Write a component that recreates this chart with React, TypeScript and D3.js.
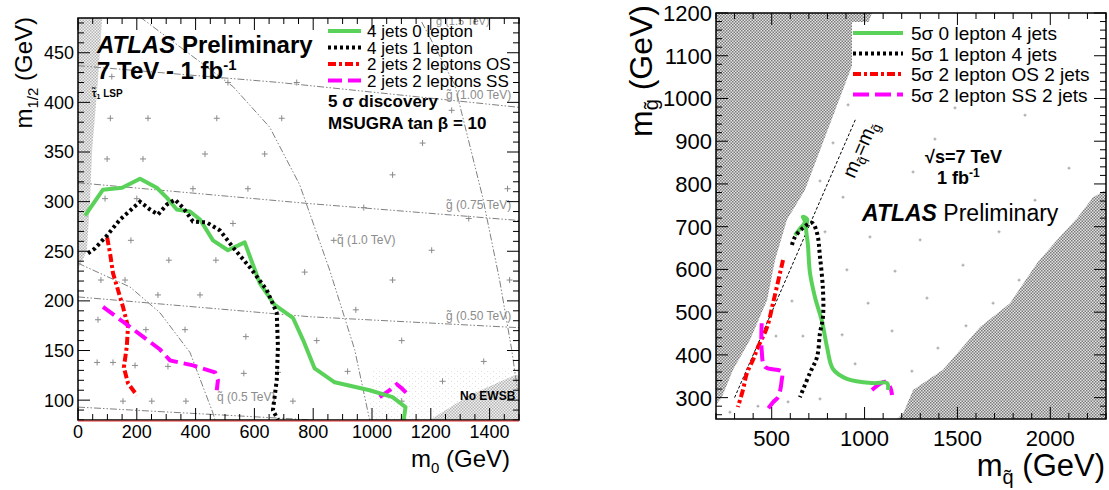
import React from 'react';
import * as d3 from 'd3';

const FONT = "'Liberation Sans', Arial, Helvetica, sans-serif";

// ---------- LEFT PANEL DATA (m0, m1/2 in GeV) ----------
const L_GREEN: [number, number][] = [[24,286],[85,312],[150,314],[211,323],[268,314],[302,304],[336,292],[381,290],[415,282],[459,261],[510,251],[567,259],[618,218],[669,196],[731,183],[765,161],[805,132],[873,118],[992,110],[1070,103],[1114,93],[1108,80]];
const L_BLACK: [number, number][] = [[34,248],[58,253],[99,266],[143,282],[211,300],[245,292],[272,287],[302,297],[330,302],[357,294],[391,280],[438,279],[483,271],[527,254],[584,234],[642,211],[676,188],[680,154],[676,120],[663,90],[680,80]];
const L_RED: [number, number][] = [[99,264],[109,248],[119,228],[136,211],[153,194],[170,174],[166,154],[156,133],[170,117],[200,105]];
const L_MAG1: [number, number][] = [[85,194],[153,179],[221,164],[279,151],[313,140],[391,135],[466,128],[476,120],[472,110]];
const L_MAG2: [number, number][] = [[1026,103],[1060,110],[1084,116],[1101,112],[1128,104]];

const L_GLUINO_500: [number, number][] = [[0,204],[790,184],[1500,173]];
const L_GLUINO_750: [number, number][] = [[0,319],[788,298],[1500,281]];
const L_GLUINO_1000: [number, number][] = [[0,437],[279,430],[686,420],[1500,395]];
const L_GLUINO_LOW: [number, number][] = [[0,93],[800,80]];
const L_SQUARK_500: [number, number][] = [[0,238],[51,231],[177,214],[279,188],[381,148],[459,87],[466,80]];
const L_SQUARK_1000: [number, number][] = [[211,486],[527,416],[652,375],[754,317],[856,231],[941,151],[992,80]];
const L_SQUARK_1500: [number, number][] = [[1169,481],[1281,418],[1376,305],[1434,221],[1475,151],[1495,110]];

const L_HATCH_LSP: [number, number][] = [[0,485],[82,485],[68,422],[48,352],[41,302],[30,250],[0,232]];
const L_HATCH_EWSB: [number, number][] = [[1196,80],[1500,80],[1500,125],[1485,125],[1332,105]];
const L_STIPPLE: [number, number][] = [[990,80],[1000,132],[1500,132],[1500,80]];

const L_GRID: [number, number][] = [[115,426],[510,420],[110,384],[238,384],[472,384],[99,343],[221,343],[432,348],[635,348],[391,313],[578,313],[92,303],[744,420],[693,384],[1172,359],[1070,327],[1271,392],[1461,313],[200,303],[180,261],[309,241],[469,241],[527,278],[78,221],[160,221],[272,206],[415,206],[771,229],[68,181],[231,171],[364,171],[571,164],[65,138],[119,138],[194,135],[306,134],[153,99],[251,99],[367,99],[564,127],[680,128],[731,99],[972,294],[1329,283],[870,261],[1203,251],[1070,221],[1468,221],[945,191],[812,160],[1101,160],[917,129],[1240,119],[1380,139],[1101,99]];

const L_X_TICKS = [0, 200, 400, 600, 800, 1000, 1200, 1400];
const L_Y_TICKS = [100, 150, 200, 250, 300, 350, 400, 450];

// ---------- RIGHT PANEL DATA (m_squark, m_gluino in GeV) ----------
const R_GREEN: [number, number][] = [[625,680],[652,695],[679,711],[668,723],[690,718],[685,697],[695,657],[706,592],[733,535],[771,478],[798,418],[830,367],[905,344],[1045,334],[1121,334],[1126,318]];
const R_BLACK: [number, number][] = [[609,657],[625,676],[668,697],[717,709],[744,685],[760,629],[776,552],[776,489],[760,451],[744,395],[706,358],[652,301]];
const R_RED: [number, number][] = [[561,622],[545,592],[507,521],[475,465],[426,418],[399,388],[367,358],[345,318],[318,278]];
const R_MAG1: [number, number][] = [[446,474],[446,411],[464,372],[554,361],[554,341],[535,302],[509,290],[482,275]];
const R_MAG2: [number, number][] = [[1040,318],[1110,337],[1137,325],[1148,306]];
const R_DIAG: [number, number][] = [[300,300],[950,950]];

const R_HATCH_L: [number, number][] = [[200,1200],[1040,1200],[679,786],[582,716],[518,622],[475,528],[383,435],[292,365],[230,300],[200,283]];
const R_HATCH_R: [number, number][] = [[1175,250],[1210,265],[1261,318],[1422,365],[1622,465],[1783,521],[1929,615],[2036,669],[2144,720],[2230,769],[2300,786],[2300,250]];

const R_GRID: [number, number][] = [[1487,978],[1864,961],[1379,905],[1261,828],[2101,837],[884,769],[1029,676],[1299,669],[787,688],[905,599],[1164,596],[1336,533],[1019,521],[609,526],[879,447],[668,444],[523,444],[1148,456],[1395,416],[949,379],[1255,362],[760,297],[588,290],[426,280],[275,266],[911,985],[1013,1010],[830,896],[760,807],[1918,762],[1724,688],[1530,610],[1832,575],[1692,521],[1546,468]];

const R_X_TICKS = [500, 1000, 1500, 2000];
const R_Y_TICKS = [300, 400, 500, 600, 700, 800, 900, 1000, 1100, 1200];

const GREEN = '#5ad25a';
const RED = '#ff0000';
const MAG = '#ff00ff';

const L_LEGEND = [
  { label: '4 jets 0 lepton', color: GREEN, dash: 'none' },
  { label: '4 jets 1 lepton', color: '#000', dash: '3,3' },
  { label: '2 jets 2 leptons OS', color: RED, dash: '8,3,3,3' },
  { label: '2 jets 2 leptons SS', color: MAG, dash: '14,6' },
];
const R_LEGEND = [
  { label: '5σ 0 lepton 4 jets', color: GREEN, dash: 'none' },
  { label: '5σ 1 lepton 4 jets', color: '#000', dash: '3,3' },
  { label: '5σ 2 lepton OS 2 jets', color: RED, dash: '8,3,3,3' },
  { label: '5σ 2 lepton SS 2 jets', color: MAG, dash: '16,6' },
];

const xL = d3.scaleLinear().domain([0, 1500]).range([78, 519]);
const yL = d3.scaleLinear().domain([80, 485]).range([420, 18]);
const xR = d3.scaleLinear().domain([200, 2300]).range([716, 1106]);
const yR = d3.scaleLinear().domain([250, 1200]).range([419, 13]);

function Ticks({ xs, ys, xMin, xMaj, yMin, yMaj, xDom, yDom }: any) {
  const [x0, x1] = xs.range();
  const [y0, y1] = ys.range();
  const els: any[] = [];
  const xt = d3.range(Math.ceil(xDom[0] / xMin) * xMin, xDom[1] + 0.01, xMin);
  xt.forEach((v: number, i: number) => {
    const maj = Math.abs(v / xMaj - Math.round(v / xMaj)) < 1e-6;
    const L = maj ? 12 : 6;
    const px = xs(v);
    els.push(<line key={'xb' + i} x1={px} x2={px} y1={y0} y2={y0 - L} stroke="#000" strokeWidth={1} />);
    els.push(<line key={'xt' + i} x1={px} x2={px} y1={y1} y2={y1 + L} stroke="#000" strokeWidth={1} />);
  });
  const yt = d3.range(Math.ceil(yDom[0] / yMin) * yMin, yDom[1] + 0.01, yMin);
  yt.forEach((v: number, i: number) => {
    const maj = Math.abs(v / yMaj - Math.round(v / yMaj)) < 1e-6;
    const L = maj ? 12 : 6;
    const py = ys(v);
    els.push(<line key={'yl' + i} x1={x0} x2={x0 + L} y1={py} y2={py} stroke="#000" strokeWidth={1} />);
    els.push(<line key={'yr' + i} x1={x1} x2={x1 - L} y1={py} y2={py} stroke="#000" strokeWidth={1} />);
  });
  return <g>{els}</g>;
}

export default function App() {
  const lineL = d3.line<[number, number]>().x(d => xL(d[0])).y(d => yL(d[1]));
  const lineR = d3.line<[number, number]>().x(d => xR(d[0])).y(d => yR(d[1])).curve(d3.curveCatmullRom.alpha(0.5));
  const lineRlin = d3.line<[number, number]>().x(d => xR(d[0])).y(d => yR(d[1]));
  const polyL = (p: [number, number][]) => lineL(p) + 'Z';
  const polyR = (p: [number, number][]) => lineRlin(p) + 'Z';
  const isoStyle = { fill: 'none', stroke: '#808080', strokeWidth: 1, strokeDasharray: '7,2,1.5,2,1.5,2' };

  return (
    <svg width={1109} height={490} style={{ position: 'absolute', left: 0, top: 0, background: '#fff' }} fontFamily={FONT}>
      <defs>
        <pattern id="chkL" width="3" height="3" patternUnits="userSpaceOnUse">
          <rect width="3" height="3" fill="#f2f2f2" />
          <rect width="1.5" height="1.5" fill="#b4b4b4" />
          <rect x="1.5" y="1.5" width="1.5" height="1.5" fill="#b4b4b4" />
        </pattern>
        <pattern id="chkR" width="3" height="3" patternUnits="userSpaceOnUse">
          <rect width="3" height="3" fill="#e4e4e4" />
          <rect width="1.5" height="1.5" fill="#7a7a7a" />
          <rect x="1.5" y="1.5" width="1.5" height="1.5" fill="#7a7a7a" />
        </pattern>
        <pattern id="stip" width="6" height="5" patternUnits="userSpaceOnUse">
          <rect x="1" y="1" width="1" height="1" fill="#e0e0e0" />
          <rect x="4" y="3" width="1" height="1" fill="#e6e6e6" />
        </pattern>
        <clipPath id="clipL"><rect x={78} y={18} width={441} height={402} /></clipPath>
        <clipPath id="clipR"><rect x={716} y={13} width={390} height={406} /></clipPath>
      </defs>

      {/* ================= LEFT PANEL ================= */}
      <g clipPath="url(#clipL)">
        <path d={polyL(L_STIPPLE)} fill="url(#stip)" />
        <path d={polyL(L_HATCH_LSP)} fill="url(#chkL)" />
        <path d={polyL(L_HATCH_EWSB)} fill="url(#chkL)" />
        {[L_GLUINO_500, L_GLUINO_750, L_GLUINO_1000, L_GLUINO_LOW, L_SQUARK_500, L_SQUARK_1000, L_SQUARK_1500].map((p, i) => (
          <path key={'iso' + i} d={lineL(p) || ''} style={isoStyle as any} />
        ))}
        {L_GRID.map((d, i) => (
          <g key={'lg' + i} stroke="#8a8a8a" strokeWidth={1}>
            <line x1={xL(d[0]) - 3} x2={xL(d[0]) + 3} y1={yL(d[1])} y2={yL(d[1])} />
            <line x1={xL(d[0])} x2={xL(d[0])} y1={yL(d[1]) - 3} y2={yL(d[1]) + 3} />
          </g>
        ))}
        <g fill="#8c8c8c" fontSize={12}>
          <text x={436} y={25} fontSize={11}>{'g\u0303 (1.5 TeV)'}</text>
          <text x={446} y={99}>{'g\u0303 (1.00 TeV)'}</text>
          <text x={446} y={209}>{'g\u0303 (0.75 TeV)'}</text>
          <text x={446} y={320}>{'g\u0303 (0.50 TeV)'}</text>
          <text x={337} y={244}>{'q\u0303 (1.0 TeV)'}</text>
          <text x={217} y={401}>{'q\u0303 (0.5 TeV)'}</text>
        </g>
        <path d={lineL(L_RED) || ''} fill="none" stroke={RED} strokeWidth={4} strokeDasharray="8,3,3,3" />
        <path d={lineL(L_MAG1) || ''} fill="none" stroke={MAG} strokeWidth={4} strokeDasharray="14,6" />
        <path d={lineL(L_MAG2) || ''} fill="none" stroke={MAG} strokeWidth={4} strokeDasharray="14,6" />
        <path d={lineL(L_GREEN) || ''} fill="none" stroke={GREEN} strokeWidth={4} strokeLinejoin="round" />
        <path d={lineL(L_BLACK) || ''} fill="none" stroke="#000" strokeWidth={4} strokeDasharray="3,3" />
      </g>
      <Ticks xs={xL} ys={yL} xMin={50} xMaj={200} yMin={10} yMaj={50} xDom={[0, 1500]} yDom={[80, 485]} />
      <rect x={78} y={18} width={441} height={402} fill="none" stroke="#000" strokeWidth={1.5} />
      <line x1={78} x2={519} y1={421} y2={421} stroke="#e03030" strokeWidth={1} />
      <g fontSize={18} fill="#000">
        {L_X_TICKS.map(v => <text key={'lxt' + v} x={xL(v)} y={438} textAnchor="middle">{v}</text>)}
        {L_Y_TICKS.map(v => <text key={'lyt' + v} x={74} y={yL(v)} dy="0.36em" textAnchor="end">{v}</text>)}
      </g>
      <text x={510} y={467} fontSize={24} textAnchor="end">m<tspan fontSize={15} dy={6}>0</tspan><tspan dy={-6}> (GeV)</tspan></text>
      <text transform="translate(32,17) rotate(-90)" fontSize={24} textAnchor="end">m<tspan fontSize={15} dy={6}>1/2</tspan><tspan dy={-6}> (GeV)</tspan></text>

      <text x={97} y={53} fontSize={24} fontWeight="bold"><tspan fontStyle="italic">ATLAS</tspan><tspan> Preliminary</tspan></text>
      <text x={97} y={79} fontSize={24} fontWeight="bold">7 TeV - 1 fb<tspan fontSize={15} dy={-9}>-1</tspan></text>
      <text x={92} y={97} fontSize={10} fontWeight="bold">{'τ\u0303'}<tspan fontSize={7} dy={2}>1</tspan><tspan dy={-2}> LSP</tspan></text>
      <text x={328} y={107} fontSize={17} fontWeight="bold">5 σ discovery</text>
      <text x={328} y={129} fontSize={17} fontWeight="bold">MSUGRA tan β = 10</text>
      <text x={460} y={400} fontSize={12} fontWeight="bold">No EWSB</text>
      {L_LEGEND.map((e, i) => (
        <g key={'ll' + i}>
          <line x1={328} x2={361} y1={31 + i * 16.5} y2={31 + i * 16.5} stroke={e.color} strokeWidth={4} strokeDasharray={e.dash} />
          <text x={367} y={37 + i * 16.5} fontSize={17}>{e.label}</text>
        </g>
      ))}

      {/* ================= RIGHT PANEL ================= */}
      <g clipPath="url(#clipR)">
        <path d={polyR(R_HATCH_L)} fill="url(#chkR)" />
        <path d={polyR(R_HATCH_R)} fill="url(#chkR)" />
        {R_GRID.map((d, i) => (
          <g key={'rg' + i} stroke="#a0a0a0" strokeWidth={1}>
            <line x1={xR(d[0]) - 1.5} x2={xR(d[0]) + 1.5} y1={yR(d[1])} y2={yR(d[1])} />
            <line x1={xR(d[0])} x2={xR(d[0])} y1={yR(d[1]) - 1.5} y2={yR(d[1]) + 1.5} />
          </g>
        ))}
        <path d={lineRlin(R_DIAG) || ''} fill="none" stroke="#000" strokeWidth={1} strokeDasharray="3,2" />
        <path d={lineR(R_RED) || ''} fill="none" stroke={RED} strokeWidth={4} strokeDasharray="8,3,3,3" />
        <path d={lineR(R_MAG1) || ''} fill="none" stroke={MAG} strokeWidth={4} strokeDasharray="16,6" />
        <path d={lineR(R_MAG2) || ''} fill="none" stroke={MAG} strokeWidth={4} strokeDasharray="16,6" />
        <path d={lineR(R_GREEN) || ''} fill="none" stroke={GREEN} strokeWidth={4} strokeLinejoin="round" />
        <path d={lineR(R_BLACK) || ''} fill="none" stroke="#000" strokeWidth={4} strokeDasharray="3,3" />
      </g>
      <rect x={852} y={22} width={250} height={84} fill="#fff" />
      <Ticks xs={xR} ys={yR} xMin={100} xMaj={500} yMin={20} yMaj={100} xDom={[200, 2300]} yDom={[250, 1200]} />
      <rect x={716} y={13} width={390} height={406} fill="none" stroke="#000" strokeWidth={1.5} />
      <g fontSize={22} fill="#000">
        {R_X_TICKS.map(v => <text key={'rxt' + v} x={xR(v)} y={446} textAnchor="middle">{v}</text>)}
        {R_Y_TICKS.map(v => <text key={'ryt' + v} x={712} y={yR(v)} dy="0.36em" textAnchor="end">{v}</text>)}
      </g>
      <text x={1105} y={476} fontSize={31} textAnchor="end">m<tspan fontSize={20} dy={8}>{'q\u0303'}</tspan><tspan dy={-8}> (GeV)</tspan></text>
      <text transform="translate(652,137) rotate(-90)" fontSize={32} textAnchor="start">m<tspan fontSize={20} dy={6}>{'g\u0303'}</tspan><tspan dy={-6}> (GeV)</tspan></text>

      {R_LEGEND.map((e, i) => (
        <g key={'rl' + i}>
          <line x1={853} x2={903} y1={33 + i * 20.5} y2={33 + i * 20.5} stroke={e.color} strokeWidth={4} strokeDasharray={e.dash} />
          <text x={911} y={40 + i * 20.5} fontSize={19}>{e.label}</text>
        </g>
      ))}
      <text transform="translate(866,152) rotate(-66.5)" fontSize={20} textAnchor="middle">m<tspan fontSize={13} dy={4}>{'q\u0303'}</tspan><tspan dy={-4}>=m</tspan><tspan fontSize={13} dy={4}>{'g\u0303'}</tspan></text>
      <text x={925} y={163} fontSize={18} fontWeight="bold">√s=7 TeV</text>
      <text x={937} y={184} fontSize={18} fontWeight="bold">1 fb<tspan fontSize={12} dy={-7}>-1</tspan></text>
      <text x={862} y={221} fontSize={23}><tspan fontWeight="bold" fontStyle="italic">ATLAS</tspan><tspan> Preliminary</tspan></text>
    </svg>
  );
}
